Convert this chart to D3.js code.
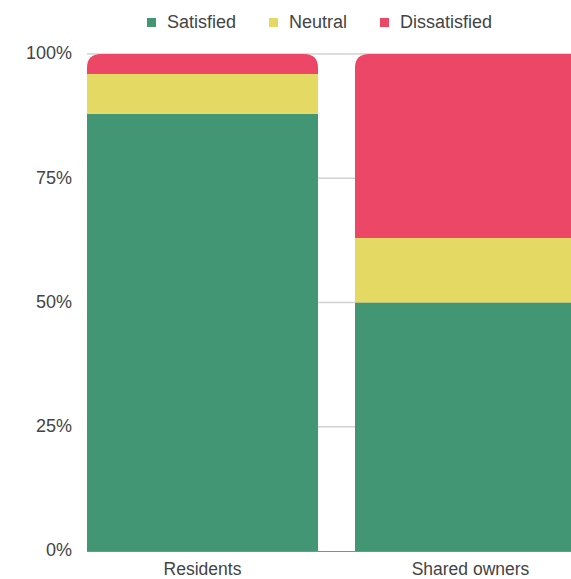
<!DOCTYPE html>
<html lang="en">
<head>
<meta charset="utf-8">
<title>Satisfaction</title>
<script src="https://cdn.jsdelivr.net/npm/d3@7"></script>
<style>
  body { margin: 0; background: #fff; }
  text { font-family: "Liberation Sans", Arial, sans-serif; fill: #444; }
</style>
</head>
<body>
<script>
// data
var groups = ["Residents", "Shared owners"];
var keys = ["Satisfied", "Neutral", "Dissatisfied"];
var satisfied = [88, 50];
var neutral = [8, 13];
var dissatisfied = [4, 37];
var yTicks = [0, 25, 50, 75, 100];
var colors = ["#439674", "#e4d962", "#ec4767"];

var w = 571, h = 579;
var svg = d3.select("body").append("svg").attr("width", w).attr("height", h);

var rows = groups.map(function(g, i) {
  return { group: g, Satisfied: satisfied[i], Neutral: neutral[i], Dissatisfied: dissatisfied[i] };
});
var series = d3.stack().keys(keys)(rows);

var x = d3.scaleBand().domain(groups).range([87, 586]).paddingInner(0.138).paddingOuter(0);
var y = d3.scaleLinear().domain([0, 100]).range([551, 54]);
var color = d3.scaleOrdinal().domain(keys).range(colors);

// grid
svg.append("g").selectAll("line").data(yTicks.filter(function(d) { return d > 0; }))
  .enter().append("line")
  .attr("x1", 87).attr("x2", w)
  .attr("y1", function(d) { return y(d); }).attr("y2", function(d) { return y(d); })
  .attr("stroke", "#d2d2d2").attr("stroke-width", 1.5);

// y labels
svg.append("g").selectAll("text").data(yTicks).enter().append("text")
  .attr("x", 72).attr("y", function(d) { return y(d); })
  .attr("dy", "0.3em")
  .attr("text-anchor", "end")
  .style("font-size", "18px")
  .text(function(d) { return d + "%"; });

var r = 14;
function topPath(x0, x1, y0, y1) {
  return "M" + x0 + "," + y1 + "V" + (y0 + r) + "Q" + x0 + "," + y0 + " " + (x0 + r) + "," + y0 +
    "H" + (x1 - r) + "Q" + x1 + "," + y0 + " " + x1 + "," + (y0 + r) + "V" + y1 + "Z";
}

series.forEach(function(s, si) {
  var last = si === series.length - 1;
  svg.append("g").attr("fill", color(s.key)).selectAll("path").data(s).enter().append("path")
    .attr("d", function(d) {
      var x0 = x(d.data.group), x1 = x0 + x.bandwidth();
      var yt = y(d[1]), yb = y(d[0]);
      if (last) return topPath(x0, x1, yt, yb);
      return "M" + x0 + "," + yt + "H" + x1 + "V" + yb + "H" + x0 + "Z";
    });
});

// baseline
svg.append("line").attr("x1", 87).attr("x2", w).attr("y1", y(0) + 0.5).attr("y2", y(0) + 0.5)
  .attr("stroke", "#8a8a8a").attr("stroke-width", 1);

// x labels
svg.append("g").selectAll("text").data(groups).enter().append("text")
  .attr("x", function(d) { return x(d) + x.bandwidth() / 2; })
  .attr("y", 575)
  .attr("text-anchor", "middle")
  .style("font-size", "17.5px")
  .text(function(d) { return d; });

// legend
var legendX = [147, 269, 380];
var legend = svg.append("g").selectAll("g").data(keys).enter().append("g")
  .attr("transform", function(d, i) { return "translate(" + legendX[i] + ",0)"; });
legend.append("rect").attr("x", 0).attr("y", 18).attr("width", 9).attr("height", 9)
  .attr("fill", function(d) { return color(d); });
legend.append("text").attr("x", 20).attr("y", 28).style("font-size", "18px")
  .text(function(d) { return d; });
</script>
</body>
</html>
